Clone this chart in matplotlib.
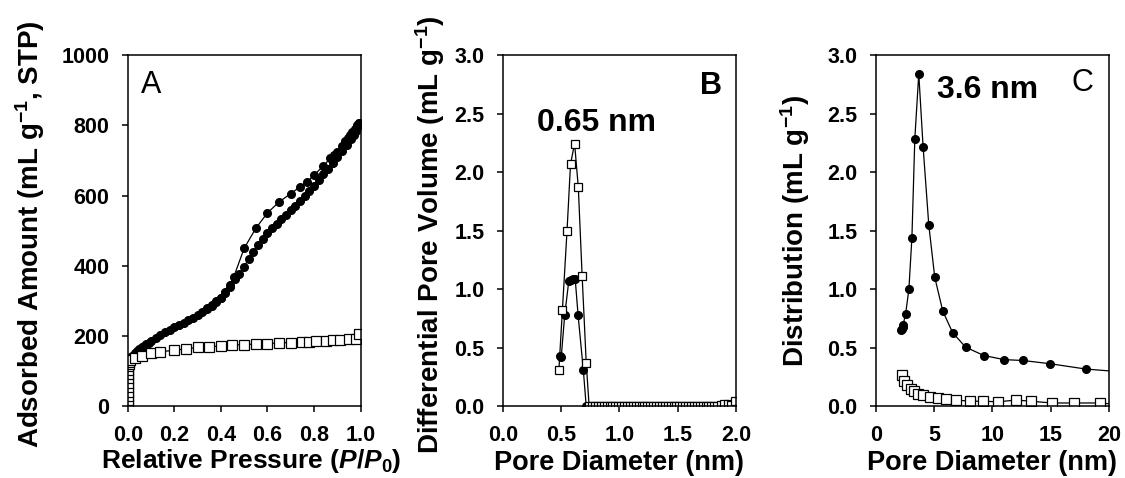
import numpy as np
import matplotlib.pyplot as plt
import matplotlib

matplotlib.rcParams['font.family'] = ['Liberation Sans', 'DejaVu Sans']
matplotlib.rcParams['font.weight'] = 'bold'
matplotlib.rcParams['axes.labelweight'] = 'bold'
matplotlib.rcParams['mathtext.fontset'] = 'custom'
matplotlib.rcParams['mathtext.rm'] = 'Liberation Sans:bold'
matplotlib.rcParams['mathtext.it'] = 'Liberation Sans:italic:bold'
matplotlib.rcParams['mathtext.bf'] = 'Liberation Sans:bold'

# ---- panel A: isotherms ----
p_ads = [0.001, 0.002, 0.004, 0.006, 0.008, 0.01, 0.015, 0.02, 0.03, 0.04, 0.05, 0.06,
         0.07, 0.08, 0.09, 0.10, 0.12, 0.14, 0.16, 0.18, 0.20, 0.22, 0.24, 0.26, 0.28,
         0.30, 0.32, 0.34, 0.36, 0.38, 0.40, 0.42, 0.44, 0.46, 0.48, 0.50, 0.52, 0.54,
         0.56, 0.58, 0.60, 0.62, 0.64, 0.66, 0.68, 0.70, 0.72, 0.74, 0.76, 0.78, 0.80,
         0.82, 0.84, 0.86, 0.88, 0.90, 0.92, 0.94, 0.96, 0.97, 0.98, 0.99, 0.995]
v_ads = [118, 124, 128, 131, 134, 137, 141, 145, 151, 157, 163, 168,
         173, 178, 182, 187, 195, 203, 211, 218, 225, 232, 239, 246, 253,
         261, 269, 278, 287, 297, 308, 322, 340, 362, 378, 398, 420, 440,
         460, 478, 493, 507, 520, 533, 546, 558, 570, 584, 598, 613, 628,
         644, 661, 677, 693, 710, 728, 745, 762, 772, 785, 798, 808]
p_des = [0.995, 0.985, 0.975, 0.965, 0.955, 0.945, 0.935, 0.92, 0.90, 0.885, 0.87, 0.84,
         0.80, 0.77, 0.74, 0.70, 0.65, 0.60, 0.55, 0.50, 0.455, 0.44, 0.42, 0.40, 0.38,
         0.36, 0.34]
v_des = [808, 800, 790, 780, 772, 763, 755, 742, 725, 715, 706, 685,
         658, 639, 625, 606, 582, 551, 507, 450, 368, 345, 325, 310, 300,
         289, 279]
p_sq = [0.003, 0.003, 0.003, 0.003, 0.003, 0.003, 0.003, 0.003, 0.003, 0.003, 0.004,
        0.006, 0.01, 0.03, 0.06, 0.10, 0.14, 0.20, 0.25, 0.30, 0.35, 0.40, 0.45, 0.50,
        0.55, 0.60, 0.65, 0.70, 0.75, 0.78, 0.81, 0.85, 0.88, 0.91, 0.95, 0.98, 0.995]
v_sq = [5, 18, 30, 42, 55, 68, 80, 92, 104, 114, 122, 128, 133, 138, 145, 152, 156,
        160, 164, 168, 170, 172, 175, 176, 178, 179, 181, 182, 183, 184, 186, 187, 188,
        189, 192, 193, 206]

# ---- panel B: micropore distribution ----
b_sq_x = [0.48, 0.51, 0.55, 0.58, 0.615, 0.647, 0.68, 0.715, 0.74,
          0.765, 0.79, 0.815, 0.84, 0.865, 0.89, 0.915, 0.94, 0.965, 0.99, 1.015,
          1.04, 1.065, 1.09, 1.115, 1.14, 1.165, 1.19, 1.215, 1.24, 1.265, 1.29,
          1.315, 1.34, 1.365, 1.39, 1.415, 1.44, 1.465, 1.49, 1.515, 1.54, 1.565,
          1.59, 1.615, 1.64, 1.665, 1.69, 1.715, 1.74, 1.765, 1.79, 1.815, 1.84,
          1.87, 1.9, 1.93, 1.96, 1.99]
b_sq_y = [0.31, 0.82, 1.50, 2.07, 2.245, 1.87, 1.11, 0.37, 0.0,
          0, 0, 0, 0, 0, 0, 0, 0, 0, 0, 0,
          0, 0, 0, 0, 0, 0, 0, 0, 0, 0, 0,
          0, 0, 0, 0, 0, 0, 0, 0, 0, 0, 0,
          0, 0, 0, 0, 0, 0, 0, 0, 0, 0, 0.005,
          0.015, 0.025, 0.02, 0.01, 0.05]
b_fill_x = [0.49, 0.50, 0.53, 0.565, 0.585, 0.605, 0.62, 0.645, 0.69, 0.715, 1.0, 1.5, 1.98]
b_fill_y = [0.43, 0.42, 0.78, 1.07, 1.08, 1.09, 1.09, 0.78, 0.31, 0.0, 0.0, 0.0, 0.01]

# ---- panel C: mesopore distribution ----
c_fill_x = [2.11, 2.2, 2.28, 2.33, 2.54, 2.82, 3.08, 3.33, 3.67, 4.04, 4.53, 5.04,
            5.73, 6.58, 7.69, 9.26, 11.03, 12.59, 14.96, 18.0, 20.5]
c_fill_y = [0.65, 0.66, 0.68, 0.70, 0.79, 1.0, 1.44, 2.285, 2.84, 2.22, 1.55, 1.105,
            0.815, 0.63, 0.507, 0.435, 0.40, 0.393, 0.365, 0.32, 0.30]
c_sq_x = [2.22, 2.42, 2.68, 2.96, 3.25, 3.6, 4.05, 4.6, 5.3, 6.0, 6.9, 8.1, 9.2,
          10.5, 12.0, 13.3, 15.1, 17.0, 19.2, 20.5]
c_sq_y = [0.265, 0.216, 0.18, 0.15, 0.13, 0.11, 0.095, 0.08, 0.07, 0.065, 0.055,
          0.045, 0.045, 0.04, 0.055, 0.045, 0.03, 0.03, 0.03, 0.02]

fig = plt.figure(figsize=(11.25, 4.78), dpi=100)
w, h, bot = 0.207, 0.735, 0.1496
axA = fig.add_axes([0.1135, bot, w, h])
axB = fig.add_axes([0.4471, bot, w, h])
axC = fig.add_axes([0.7787, bot, w, h])

fill_kw = dict(color='black', marker='o', markersize=5.5, linewidth=0.9)
sq_kw = dict(color='black', marker='s', markersize=6.5, markerfacecolor='white',
             markeredgecolor='black', markeredgewidth=0.9, linewidth=0.9)

axA.plot(p_ads, v_ads, **fill_kw)
axA.plot(p_des, v_des, **fill_kw)
axA.plot(p_sq, v_sq, **sq_kw)
axA.set_xlim(0, 1.0)
axA.set_ylim(0, 1000)
axA.set_xticks([0, 0.2, 0.4, 0.6, 0.8, 1.0])
axA.set_xticklabels(['0.0', '0.2', '0.4', '0.6', '0.8', '1.0'])
axA.set_yticks([0, 200, 400, 600, 800, 1000])
axA.set_xlabel('Relative Pressure ($\\mathit{P/P_0}$)', fontsize=19)
axA.set_ylabel('Adsorbed Amount (mL g$^{-1}$, STP)', fontsize=20)
axA.xaxis.set_label_coords(0.53, -0.115)
axA.yaxis.set_label_coords(-0.347, 0.49)
axA.text(0.1, 915, 'A', fontsize=22, fontweight='normal', va='center', ha='center')

axB.plot(b_fill_x, b_fill_y, **fill_kw)
axB.plot(b_sq_x, b_sq_y, **dict(sq_kw, markersize=6))
axB.set_xlim(0, 2.0)
axB.set_ylim(0, 3.0)
axB.set_xticks([0, 0.5, 1.0, 1.5, 2.0])
axB.set_xticklabels(['0.0', '0.5', '1.0', '1.5', '2.0'])
axB.set_yticks([0, 0.5, 1.0, 1.5, 2.0, 2.5, 3.0])
axB.set_yticklabels(['0.0', '0.5', '1.0', '1.5', '2.0', '2.5', '3.0'])
axB.set_xlabel('Pore Diameter (nm)', fontsize=19.5)
axB.set_ylabel('Differential Pore Volume (mL g$^{-1}$)', fontsize=20)
axB.xaxis.set_label_coords(0.5, -0.125)
axB.yaxis.set_label_coords(-0.24, 0.49)
axB.text(0.8, 2.42, '0.65 nm', fontsize=23, va='center', ha='center')
axB.text(1.88, 2.74, 'B', fontsize=22, va='center', ha='right')

axC.plot(c_fill_x, c_fill_y, **fill_kw)
axC.plot(c_sq_x, c_sq_y, **sq_kw)
axC.set_xlim(0, 20)
axC.set_ylim(0, 3.0)
axC.set_xticks([0, 5, 10, 15, 20])
axC.set_yticks([0, 0.5, 1.0, 1.5, 2.0, 2.5, 3.0])
axC.set_yticklabels(['0.0', '0.5', '1.0', '1.5', '2.0', '2.5', '3.0'])
axC.set_xlabel('Pore Diameter (nm)', fontsize=19.5)
axC.set_ylabel('Distribution (mL g$^{-1}$)', fontsize=20)
axC.xaxis.set_label_coords(0.5, -0.125)
axC.yaxis.set_label_coords(-0.274, 0.5)
axC.text(9.6, 2.7, '3.6 nm', fontsize=23, va='center', ha='center')
axC.text(18.7, 2.76, 'C', fontsize=22, fontweight='normal', va='center', ha='right')

for ax in (axA, axB, axC):
    ax.tick_params(direction='out', length=4.3, width=1.1, labelsize=15.5)
    ax.tick_params(axis='x', pad=9)
    ax.tick_params(axis='y', pad=9)
    for s in ax.spines.values():
        s.set_linewidth(1.1)

fig.savefig('out.png', dpi=100)
